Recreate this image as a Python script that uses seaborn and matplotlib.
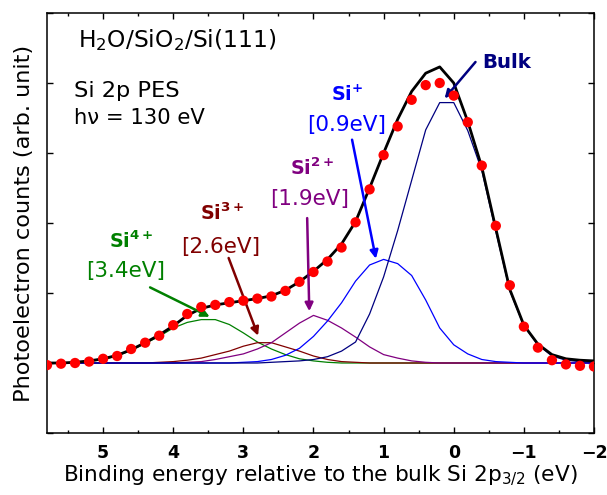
import matplotlib
matplotlib.use("Agg")
import matplotlib.pyplot as plt
from matplotlib.ticker import MultipleLocator, NullFormatter
import pandas as pd
import seaborn as sns

# Binding energy grid (eV, relative to bulk Si 2p3/2)
energy = [5.8, 5.6, 5.4, 5.2, 5.0, 4.8, 4.6, 4.4, 4.2, 4.0,
          3.8, 3.6, 3.4, 3.2, 3.0, 2.8, 2.6, 2.4, 2.2, 2.0,
          1.8, 1.6, 1.4, 1.2, 1.0, 0.8, 0.6, 0.4, 0.2, 0.0,
          -0.2, -0.4, -0.6, -0.8, -1.0, -1.2, -1.4, -1.6, -1.8, -2.0]

# Measured Si 2p counts
counts = [-0.03, -0.01, 0.00, 0.02, 0.06, 0.10, 0.20, 0.29, 0.39, 0.54,
          0.70, 0.80, 0.83, 0.87, 0.89, 0.92, 0.95, 1.03, 1.16, 1.30,
          1.45, 1.65, 2.01, 2.48, 2.97, 3.38, 3.76, 3.97, 4.00, 3.82,
          3.44, 2.82, 1.96, 1.11, 0.52, 0.22, 0.04, -0.02, -0.04, -0.05]

# Total fitted envelope
fit_total = [0.00, 0.00, 0.01, 0.03, 0.06, 0.11, 0.19, 0.29, 0.40, 0.53,
             0.68, 0.78, 0.83, 0.86, 0.89, 0.92, 0.96, 1.04, 1.16, 1.31,
             1.48, 1.70, 2.02, 2.50, 3.00, 3.48, 3.88, 4.14, 4.23, 4.00,
             3.45, 2.80, 1.92, 1.05, 0.54, 0.27, 0.12, 0.06, 0.04, 0.03]

# Fitted oxidation-state components
si4 = [0.00, 0.00, 0.01, 0.02, 0.05, 0.10, 0.18, 0.28, 0.38, 0.50,
       0.58, 0.62, 0.62, 0.55, 0.43, 0.30, 0.20, 0.12, 0.06, 0.03,
       0.01, 0.00, 0.00, 0.00, 0.00, 0.00, 0.00, 0.00, 0.00, 0.00,
       0.00, 0.00, 0.00, 0.00, 0.00, 0.00, 0.00, 0.00, 0.00, 0.00]
si3 = [0.00, 0.00, 0.00, 0.00, 0.00, 0.00, 0.00, 0.00, 0.01, 0.02,
       0.04, 0.07, 0.12, 0.17, 0.24, 0.29, 0.29, 0.23, 0.17, 0.10,
       0.05, 0.02, 0.01, 0.00, 0.00, 0.00, 0.00, 0.00, 0.00, 0.00,
       0.00, 0.00, 0.00, 0.00, 0.00, 0.00, 0.00, 0.00, 0.00, 0.00]
si2 = [0.00, 0.00, 0.00, 0.00, 0.00, 0.00, 0.00, 0.00, 0.00, 0.00,
       0.01, 0.02, 0.05, 0.09, 0.13, 0.20, 0.29, 0.43, 0.57, 0.68,
       0.61, 0.50, 0.37, 0.23, 0.12, 0.07, 0.03, 0.01, 0.00, 0.00,
       0.00, 0.00, 0.00, 0.00, 0.00, 0.00, 0.00, 0.00, 0.00, 0.00]
si1 = [0.00, 0.00, 0.00, 0.00, 0.00, 0.00, 0.00, 0.00, 0.00, 0.00,
       0.00, 0.00, 0.00, 0.00, 0.01, 0.02, 0.05, 0.11, 0.21, 0.38,
       0.60, 0.86, 1.17, 1.40, 1.48, 1.42, 1.25, 0.90, 0.50, 0.26,
       0.13, 0.05, 0.02, 0.01, 0.00, 0.00, 0.00, 0.00, 0.00, 0.00]
bulk = [0.00, 0.00, 0.00, 0.00, 0.00, 0.00, 0.00, 0.00, 0.00, 0.00,
        0.00, 0.00, 0.00, 0.00, 0.00, 0.00, 0.01, 0.02, 0.03, 0.05,
        0.09, 0.17, 0.30, 0.70, 1.23, 1.89, 2.61, 3.33, 3.72, 3.72,
        3.32, 2.75, 1.88, 1.03, 0.53, 0.26, 0.10, 0.04, 0.02, 0.01]

component_names = ["Si4+", "Si3+", "Si2+", "Si+", "Bulk"]
component_values = [si4, si3, si2, si1, bulk]
component_colors = ["#008000", "#800000", "#800080", "#0000ff", "#000080"]

sns.set_style("ticks")
plt.rcParams["font.family"] = ["DejaVu Sans"]
plt.rcParams["mathtext.fontset"] = "dejavusans"
plt.rcParams["text.color"] = "black"
plt.rcParams["axes.labelcolor"] = "black"
plt.rcParams["xtick.color"] = "black"
plt.rcParams["ytick.color"] = "black"

fig = plt.figure(figsize=(6.07, 4.95), dpi=100)
ax = fig.add_axes([47 / 607, 1 - 433 / 495, (594 - 47) / 607, (433 - 13) / 495])

comp_df = pd.DataFrame({
    "energy": energy * len(component_names),
    "intensity": sum(component_values, []),
    "component": [n for n in component_names for _ in energy],
})
sns.lineplot(data=comp_df, x="energy", y="intensity", hue="component",
             hue_order=component_names, palette=component_colors,
             estimator=None, sort=False, linewidth=0.9, legend=False, ax=ax,
             zorder=2)

spec_df = pd.DataFrame({"energy": energy, "counts": counts, "fit": fit_total})
sns.lineplot(data=spec_df, x="energy", y="fit", color="black", linewidth=2.0,
             estimator=None, sort=False, ax=ax, zorder=3)
sns.scatterplot(data=spec_df, x="energy", y="counts", color="#ff0000", s=55,
                edgecolor="none", ax=ax, zorder=4)

ax.set_xlim(5.8, -2.0)
ax.set_ylim(-1.0, 5.0)
ax.xaxis.set_major_locator(MultipleLocator(1))
ax.xaxis.set_minor_locator(MultipleLocator(0.5))
ax.yaxis.set_major_locator(MultipleLocator(1))
ax.yaxis.set_major_formatter(NullFormatter())
ax.tick_params(which="both", direction="in", top=True, right=True, width=1.0,
               colors="black")
ax.tick_params(which="major", length=4.5)
ax.tick_params(which="minor", length=2.5)
ax.tick_params(axis="x", which="major", labelsize=12.5, pad=8)
for lab in ax.get_xticklabels():
    lab.set_fontweight("bold")
for sp in ax.spines.values():
    sp.set_linewidth(1.1)
    sp.set_color("black")

ax.set_xlabel(r"Binding energy relative to the bulk Si 2p$_{3/2}$ (eV)",
              fontsize=15.6, labelpad=1.5)
ax.set_ylabel("Photoelectron counts (arb. unit)", fontsize=16.2, labelpad=6)

ax.text(5.36, 4.52, r"H$_2$O/SiO$_2$/Si(111)", fontsize=16.8, ha="left",
        va="baseline")
ax.text(5.42, 3.80, "Si 2p PES", fontsize=16.2, ha="left", va="baseline")
ax.text(5.42, 3.42, "hν = 130 eV", fontsize=15.2, ha="left", va="baseline")

arrow_kw = dict(arrowstyle="-|>", lw=1.8, mutation_scale=12,
                shrinkA=0, shrinkB=0)

# Bulk
ax.text(-0.41, 4.21, "Bulk", fontsize=14.2, fontweight="bold", color="#000080",
        ha="left", va="baseline")
ax.annotate("", xy=(0.13, 3.78), xytext=(-0.31, 4.30),
            arrowprops=dict(color="#000080", **arrow_kw))

label_size = 13.8
bracket_size = 15.5

# Si+
ax.text(1.52, 3.74, r"Si$^{\mathbf{+}}$", fontsize=label_size,
        fontweight="bold", color="#0000ff", ha="center", va="baseline")
ax.text(1.53, 3.32, "[0.9eV]", fontsize=bracket_size, color="#0000ff",
        ha="center", va="baseline")
ax.annotate("", xy=(1.11, 1.49), xytext=(1.45, 3.19),
            arrowprops=dict(color="#0000ff", **arrow_kw))

# Si2+
ax.text(2.02, 2.69, r"Si$^{\mathbf{2+}}$", fontsize=label_size,
        fontweight="bold", color="#800080", ha="center", va="baseline")
ax.text(2.06, 2.26, "[1.9eV]", fontsize=bracket_size, color="#800080",
        ha="center", va="baseline")
ax.annotate("", xy=(2.06, 0.74), xytext=(2.09, 2.07),
            arrowprops=dict(color="#800080", **arrow_kw))

# Si3+
ax.text(3.30, 2.04, r"Si$^{\mathbf{3+}}$", fontsize=label_size,
        fontweight="bold", color="#800000", ha="center", va="baseline")
ax.text(3.32, 1.57, "[2.6eV]", fontsize=bracket_size, color="#800000",
        ha="center", va="baseline")
ax.annotate("", xy=(2.79, 0.39), xytext=(3.21, 1.50),
            arrowprops=dict(color="#800000", **arrow_kw))

# Si4+
ax.text(4.60, 1.64, r"Si$^{\mathbf{4+}}$", fontsize=label_size,
        fontweight="bold", color="#008000", ha="center", va="baseline")
ax.text(4.68, 1.23, "[3.4eV]", fontsize=bracket_size, color="#008000",
        ha="center", va="baseline")
ax.annotate("", xy=(3.48, 0.66), xytext=(4.33, 1.08),
            arrowprops=dict(color="#008000", **arrow_kw))

fig.savefig("out.png", dpi=100)
